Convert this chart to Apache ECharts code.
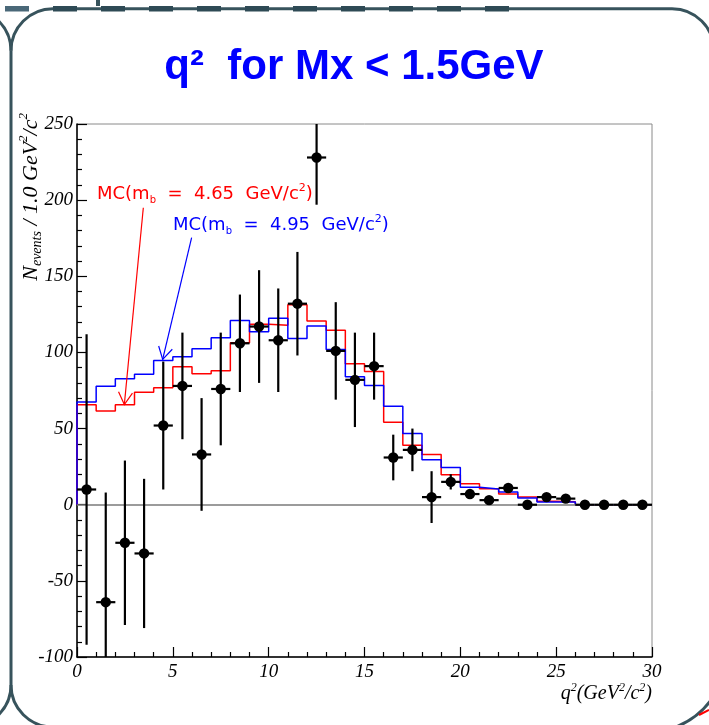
<!DOCTYPE html>
<html>
<head>
<meta charset="utf-8">
<script src="https://cdn.jsdelivr.net/npm/echarts@6/dist/echarts.min.js"></script>
<style>
  html, body { margin: 0; padding: 0; background: #ffffff; }
  #chart { width: 709px; height: 725px; }
</style>
</head>
<body>
<div id="chart"></div>
<script>
// q^2 bin centres (GeV^2/c^2), 1 GeV^2/c^2 wide bins
const q2Centers = [0.5, 1.5, 2.5, 3.5, 4.5, 5.5, 6.5, 7.5, 8.5, 9.5,
                   10.5, 11.5, 12.5, 13.5, 14.5, 15.5, 16.5, 17.5, 18.5, 19.5,
                   20.5, 21.5, 22.5, 23.5, 24.5, 25.5, 26.5, 27.5, 28.5, 29.5];
const binWidth = 1;

// background-subtracted data yield per bin and its uncertainty
const dataYield = [10, -64, -25, -32, 52, 78, 33, 76, 106, 117,
                   108, 132, 228, 101, 82, 91, 31, 36, 5, 15,
                   7, 3, 11, 0, 5, 4, 0, 0, 0, 0];
const dataError = [102, 72, 54, 49, 42, 35, 37, 37, 32, 37,
                   34, 34, 31, 32, 31, 22, 15, 14, 17, 5,
                   3, 2, 3, 1, 2, 2, 0, 0, 0, 0];

// Monte Carlo predictions for two b-quark masses
const mcMb465 = [65.6, 61.6, 65.6, 73.9, 76.8, 90.6, 86, 88, 106.4, 118.5,
                 117.8, 131.3, 120.6, 114.5, 92.6, 87.5, 54.2, 39, 32.9, 19.7,
                 13.8, 10.5, 7, 5.1, 2.2, 2, 0, 0, 0, 0];
const mcMb495 = [67.5, 77.8, 82.7, 85.7, 94.7, 97.1, 102.4, 109.6, 121, 113.6,
                 122.4, 109.2, 117.3, 102, 84, 78.3, 64.7, 46.7, 29.6, 24.5,
                 11.4, 10.3, 8.3, 4.4, 1.8, 1.8, 0, 0, 0, 0];

// axis ranges
const xMin = 0, xMax = 30, xStep = 5;
const yMin = -100, yMax = 250, yStep = 50;

const serif = '"Liberation Serif", "DejaVu Serif", serif';
const sans = '"DejaVu Sans", "Liberation Sans", sans-serif';

// histogram outline: starts and ends on the baseline
function histOutline(values) {
  const n = values.length;
  const pts = [[q2Centers[0] - binWidth / 2, 0]];
  values.forEach((v, i) => pts.push([q2Centers[i] - binWidth / 2, v]));
  pts.push([q2Centers[n - 1] + binWidth / 2, values[n - 1]]);
  pts.push([q2Centers[n - 1] + binWidth / 2, 0]);
  return pts;
}

const clampY = v => Math.max(yMin, Math.min(yMax, v));

const chart = echarts.init(document.getElementById('chart'), null, { renderer: 'canvas' });

const arrowSpecs = [
  { from: [3.46, 195], to: [2.47, 65.8], color: '#ff0000' },
  { from: [5.98, 175.4], to: [4.47, 95.4], color: '#0000ff' }
];

const frameColor = '#37535c';
const frameStyle = { stroke: frameColor, lineWidth: 3, fill: null };

function mcLabel(x, y, mass, color) {
  return {
    type: 'text', x: x, y: y,
    style: {
      text: '{t|MC(m}{s|b}{t|  =  ' + mass + '  GeV/c}{p|2}{t|)}',
      textAlign: 'left', textVerticalAlign: 'middle',
      rich: {
        t: { fill: color, fontFamily: sans, fontSize: 18, lineHeight: 23 },
        s: { fill: color, fontFamily: sans, fontSize: 10, lineHeight: 10, verticalAlign: 'bottom' },
        p: { fill: color, fontFamily: sans, fontSize: 11, lineHeight: 11, verticalAlign: 'top' }
      }
    }
  };
}

chart.setOption({
  animation: false,
  backgroundColor: '#ffffff',
  grid: {
    left: 77, right: 57, top: 124, bottom: 68,
    show: true, borderColor: '#8a8a8a', borderWidth: 1, backgroundColor: 'transparent'
  },
  xAxis: {
    type: 'value', min: xMin, max: xMax, interval: xStep,
    axisLine: { onZero: false, lineStyle: { color: '#000', width: 1.5 } },
    axisTick: { inside: true, length: 10, lineStyle: { color: '#000', width: 1.2 } },
    minorTick: { show: true, splitNumber: 5, length: 5, lineStyle: { color: '#000', width: 1.2 } },
    splitLine: { show: false },
    axisLabel: {
      margin: 5, color: '#000', fontFamily: serif, fontStyle: 'italic', fontSize: 19
    }
  },
  yAxis: {
    type: 'value', min: yMin, max: yMax, interval: yStep,
    axisLine: { onZero: false, lineStyle: { color: '#000', width: 1.5 } },
    axisTick: { inside: true, length: 10, lineStyle: { color: '#000', width: 1.2 } },
    minorTick: { show: true, splitNumber: 5, length: 5, lineStyle: { color: '#000', width: 1.2 } },
    splitLine: { show: false },
    axisLabel: {
      margin: 4, color: '#000', fontFamily: serif, fontStyle: 'italic', fontSize: 19
    }
  },
  series: [
    {
      name: 'MC mb=4.65', type: 'line', step: 'end', data: histOutline(mcMb465),
      symbol: 'none', lineStyle: { color: '#ff0000', width: 1.5 }, z: 3,
      markLine: {
        silent: true, symbol: 'none', label: { show: false },
        lineStyle: { color: '#7a7a7a', width: 1.5, type: 'solid' },
        data: [{ yAxis: 0 }]
      }
    },
    {
      name: 'MC mb=4.95', type: 'line', step: 'end', data: histOutline(mcMb495),
      symbol: 'none', lineStyle: { color: '#0000ff', width: 1.5 }, z: 4
    },
    {
      name: 'data', type: 'custom', z: 6,
      data: q2Centers.map((x, i) => [x, dataYield[i], dataError[i]]),
      renderItem(params, api) {
        const x = api.value(0), y = api.value(1), e = api.value(2);
        const c = api.coord([x, y]);
        const top = api.coord([x, clampY(y + e)]);
        const bot = api.coord([x, clampY(y - e)]);
        const l = api.coord([x - binWidth / 2, y]);
        const r = api.coord([x + binWidth / 2, y]);
        const st = { stroke: '#000', lineWidth: 2.2 };
        return {
          type: 'group',
          children: [
            { type: 'line', shape: { x1: c[0], y1: top[1], x2: c[0], y2: bot[1] }, style: st },
            { type: 'line', shape: { x1: l[0], y1: c[1], x2: r[0], y2: c[1] }, style: st },
            { type: 'circle', shape: { cx: c[0], cy: c[1], r: 5.2 }, style: { fill: '#000' } }
          ]
        };
      }
    },
    {
      name: 'arrows', type: 'custom', z: 5, silent: true,
      data: arrowSpecs.map((a, i) => [a.from[0], a.from[1], a.to[0], a.to[1], i]),
      renderItem(params, api) {
        const p0 = api.coord([api.value(0), api.value(1)]);
        const p1 = api.coord([api.value(2), api.value(3)]);
        const color = arrowSpecs[api.value(4)].color;
        const dx = p1[0] - p0[0], dy = p1[1] - p0[1];
        const len = Math.hypot(dx, dy);
        const ux = dx / len, uy = dy / len;
        const headLen = 14, ang = 30 * Math.PI / 180;
        const cos = Math.cos(ang), sin = Math.sin(ang);
        const a1 = [p1[0] - headLen * (ux * cos - uy * sin), p1[1] - headLen * (uy * cos + ux * sin)];
        const a2 = [p1[0] - headLen * (ux * cos + uy * sin), p1[1] - headLen * (uy * cos - ux * sin)];
        const st = { stroke: color, lineWidth: 1.2, fill: null };
        return {
          type: 'group',
          children: [
            { type: 'line', shape: { x1: p0[0], y1: p0[1], x2: p1[0], y2: p1[1] }, style: st },
            { type: 'polyline', shape: { points: [a1, p1, a2] }, style: st }
          ]
        };
      }
    }
  ],
  graphic: [
    // slide frame
    { type: 'line', silent: true, shape: { x1: 11, y1: 50.7, x2: 11, y2: 685 }, style: frameStyle },
    { type: 'line', silent: true, shape: { x1: 53, y1: 8.7, x2: 672, y2: 8.7 }, style: frameStyle },
    { type: 'arc', silent: true, shape: { cx: 53, cy: 50.7, r: 42, startAngle: Math.PI, endAngle: Math.PI * 1.5, clockwise: true }, style: frameStyle },
    { type: 'arc', silent: true, shape: { cx: 672, cy: 50.7, r: 42, startAngle: Math.PI * 1.5, endAngle: Math.PI * 2, clockwise: true }, style: frameStyle },
    { type: 'arc', silent: true, shape: { cx: 53, cy: 685, r: 42, startAngle: Math.PI * 0.5, endAngle: Math.PI, clockwise: true }, style: frameStyle },
    { type: 'arc', silent: true, shape: { cx: -31, cy: 50.7, r: 42, startAngle: Math.PI * 1.5, endAngle: Math.PI * 2, clockwise: true }, style: frameStyle },
    { type: 'arc', silent: true, shape: { cx: -31, cy: 685, r: 42, startAngle: 0, endAngle: Math.PI * 0.5, clockwise: true }, style: frameStyle },
    {
      type: 'line', silent: true,
      shape: { x1: 53, y1: 8.7, x2: 510, y2: 8.7 },
      style: { stroke: '#2e4a55', lineWidth: 5.5, lineDash: [24, 24] }
    },
    { type: 'rect', silent: true, shape: { x: 5, y: 6, width: 24, height: 5.5 }, style: { fill: '#4a6878' } },
    { type: 'rect', silent: true, shape: { x: 96, y: 0, width: 4, height: 6 }, style: { fill: frameColor } },
    {
      type: 'bezierCurve', silent: true,
      shape: { x1: 676, y1: 727, cpx1: 698, cpy1: 718, x2: 711, y2: 700 },
      style: frameStyle
    },
    {
      type: 'line', silent: true,
      shape: { x1: 699, y1: 715, x2: 709, y2: 710 },
      style: { stroke: '#ff0000', lineWidth: 2 }
    },
    // title
    {
      type: 'text', x: 354, y: 67,
      style: {
        text: 'q²  for Mx < 1.5GeV',
        fill: '#0000ff', font: 'bold 42px "Liberation Sans", Arial, sans-serif',
        textAlign: 'center', textVerticalAlign: 'middle'
      }
    },
    // MC labels
    mcLabel(97, 194, '4.65', '#ff0000'),
    mcLabel(173, 225, '4.95', '#0000ff'),
    // y-axis title
    {
      type: 'text', x: 31, y: 113, rotation: Math.PI / 2,
      style: {
        text: '{t|N}{s|events}{t| / 1.0 GeV}{p|2}{t|/c}{p|2}',
        textAlign: 'right', textVerticalAlign: 'middle',
        rich: {
          t: { fill: '#000', fontFamily: serif, fontStyle: 'italic', fontSize: 22, lineHeight: 27 },
          s: { fill: '#000', fontFamily: serif, fontStyle: 'italic', fontSize: 14, lineHeight: 13, verticalAlign: 'bottom' },
          p: { fill: '#000', fontFamily: serif, fontStyle: 'italic', fontSize: 13, lineHeight: 13, verticalAlign: 'top' }
        }
      }
    },
    // x-axis title
    {
      type: 'text', x: 652, y: 694,
      style: {
        text: '{t|q}{p|2}{t|(GeV}{p|2}{t|/c}{p|2}{t|)}',
        textAlign: 'right', textVerticalAlign: 'middle',
        rich: {
          t: { fill: '#000', fontFamily: serif, fontStyle: 'italic', fontSize: 20, lineHeight: 24 },
          p: { fill: '#000', fontFamily: serif, fontStyle: 'italic', fontSize: 12, lineHeight: 12, verticalAlign: 'top' }
        }
      }
    }
  ]
});
</script>
</body>
</html>
